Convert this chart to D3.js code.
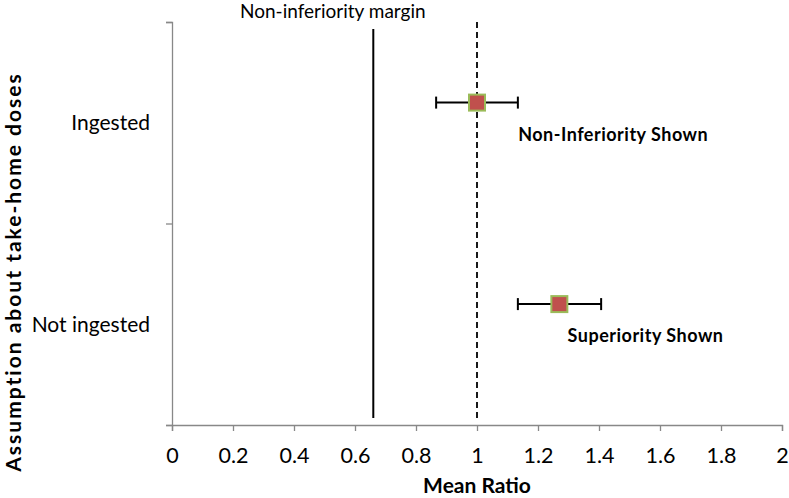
<!DOCTYPE html>
<html>
<head>
<meta charset="utf-8">
<script src="https://cdn.jsdelivr.net/npm/d3@7"></script>
<style>
  body { margin: 0; background: #fff; }
  text { font-family: Lato, 'Open Sans', sans-serif; }
</style>
</head>
<body>
<div id="chart"></div>
<script>
// values
let categories = ['Ingested', 'Not ingested']
let categoryY = [1.5, 0.5]
let pointY = [1.6, 0.6]
let means = [1.0, 1.27]
let lower = [0.866, 1.134]
let upper = [1.134, 1.407]
let notes = ['Non-Inferiority Shown', 'Superiority Shown']
let noteX = [1.135, 1.297]
let margin = 0.66
let xTicks = [0, 0.2, 0.4, 0.6, 0.8, 1, 1.2, 1.4, 1.6, 1.8, 2]

let width = 789
let height = 498
let plot = { left: 172, right: 782, top: 22, bottom: 425 }

let svg = d3
  .select('#chart')
  .append('svg')
  .attr('width', width)
  .attr('height', height)

let x = d3.scaleLinear().domain([0, 2]).range([plot.left, plot.right])
let y = d3.scaleLinear().domain([0, 2]).range([plot.bottom, plot.top])

// x axis
let xAxis = svg
  .append('g')
  .attr('transform', `translate(0,${plot.bottom})`)
  .call(
    d3.axisBottom(x)
      .tickValues(xTicks)
      .tickSize(6)
      .tickFormat(d => d3.format('')(+d.toFixed(1)))
  )
xAxis.select('.domain').attr('stroke', '#888').attr('stroke-width', 1.3)
xAxis.selectAll('.tick line').attr('stroke', '#888').attr('stroke-width', 1.3)
xAxis
  .selectAll('.tick text')
  .attr('y', 38)
  .attr('dy', 0)
  .attr('font-size', 21.5)
  .attr('fill', '#000')
  .attr('font-family', 'Lato, sans-serif')

// y axis, ticks at the category boundaries
let yAxis = svg
  .append('g')
  .attr('transform', `translate(${plot.left},0)`)
  .call(d3.axisLeft(y).tickValues([0, 1, 2]).tickSize(6).tickFormat(''))
yAxis.select('.domain').attr('stroke', '#888').attr('stroke-width', 1.3)
yAxis.selectAll('.tick line').attr('stroke', '#888').attr('stroke-width', 1.3)

svg
  .selectAll('.cat-label')
  .data(categories)
  .enter()
  .append('text')
  .attr('class', 'cat-label')
  .attr('x', plot.left - 22)
  .attr('y', (d, i) => y(categoryY[i]))
  .attr('dy', '0.35em')
  .attr('text-anchor', 'end')
  .attr('font-size', 21)
  .text(d => d)

// reference lines
svg
  .append('line')
  .attr('x1', x(margin))
  .attr('x2', x(margin))
  .attr('y1', 29)
  .attr('y2', 418)
  .attr('stroke', '#000')
  .attr('stroke-width', 2)

svg
  .append('line')
  .attr('x1', x(1))
  .attr('x2', x(1))
  .attr('y1', 22)
  .attr('y2', 418)
  .attr('stroke', '#000')
  .attr('stroke-width', 1.8)
  .attr('stroke-dasharray', '6,4')

svg
  .append('text')
  .attr('x', 240)
  .attr('y', 18)
  .attr('font-size', 19)
  .text('Non-inferiority margin')

// error bars + markers
svg
  .selectAll('.row')
  .data(categories)
  .enter()
  .append('g')
  .attr('class', 'row')
  .each(function(d, i) {
    let g = d3.select(this)
    let cy = y(pointY[i])

    g.append('line')
      .attr('x1', x(lower[i]))
      .attr('x2', x(upper[i]))
      .attr('y1', cy)
      .attr('y2', cy)
      .attr('stroke', '#000')
      .attr('stroke-width', 2)

    ;[lower[i], upper[i]].forEach(v => {
      g.append('line')
        .attr('x1', x(v))
        .attr('x2', x(v))
        .attr('y1', cy - 6)
        .attr('y2', cy + 6)
        .attr('stroke', '#000')
        .attr('stroke-width', 2)
    })

    g.append('rect')
      .attr('x', x(means[i]) - 8)
      .attr('y', cy - 8)
      .attr('width', 16)
      .attr('height', 16)
      .attr('fill', '#c0504d')
      .attr('stroke', '#9bbb59')
      .attr('stroke-width', 2)

    g.append('text')
      .attr('x', x(noteX[i]))
      .attr('y', cy + 38)
      .attr('font-size', 18)
      .attr('font-weight', 'bold')
      .attr('letter-spacing', 0.5)
      .text(notes[i])
  })

// axis titles
svg
  .append('text')
  .attr('x', x(1))
  .attr('y', 493)
  .attr('text-anchor', 'middle')
  .attr('font-size', 21)
  .attr('font-weight', 'bold')
  .text('Mean Ratio')

svg
  .append('text')
  .attr('transform', `translate(21,${272}) rotate(-90)`)
  .attr('text-anchor', 'middle')
  .attr('font-size', 21)
  .attr('font-weight', 'bold')
  .attr('letter-spacing', 2)
  .text('Assumption about take-home doses')
</script>
</body>
</html>
